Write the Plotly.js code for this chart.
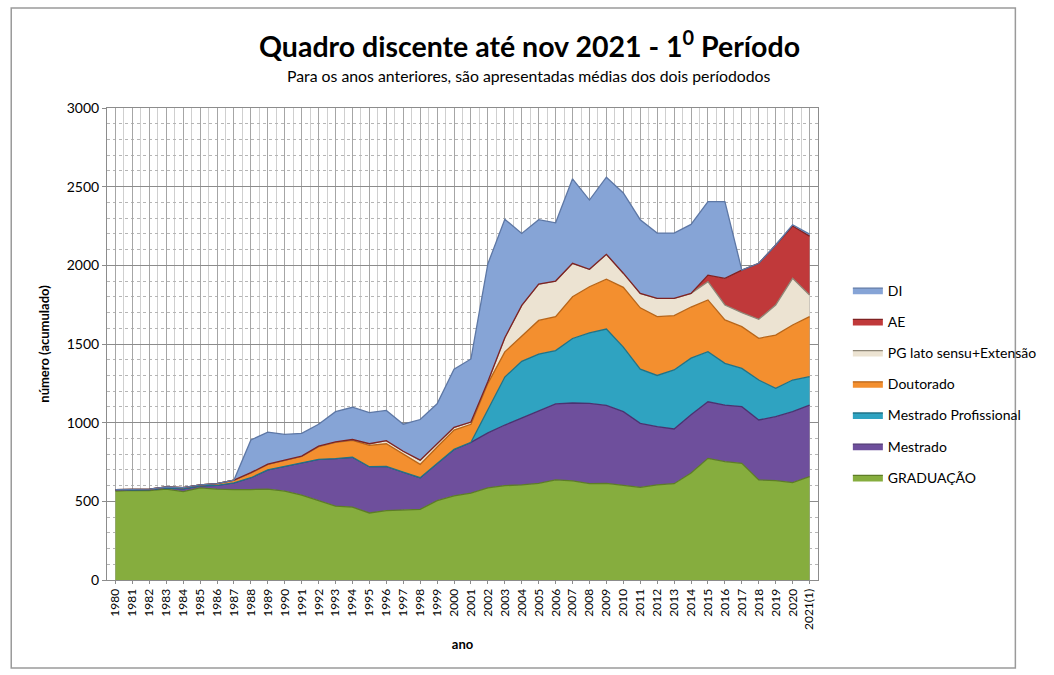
<!DOCTYPE html>
<html>
<head>
<meta charset="utf-8">
<script src="https://cdn.plot.ly/plotly-3.0.1.min.js"></script>
<style>
  html, body { margin: 0; padding: 0; background: #fff; }
  #chart { width: 1054px; height: 675px; }
</style>
</head>
<body>
<div id="chart"></div>
<script>
// stacked area chart - quadro discente 1980 .. 2021(1)

var years = ['1980','1981','1982','1983','1984','1985','1986','1987','1988','1989',
  '1990','1991','1992','1993','1994','1995','1996','1997','1998','1999',
  '2000','2001','2002','2003','2004','2005','2006','2007','2008','2009',
  '2010','2011','2012','2013','2014','2015','2016','2017','2018','2019',
  '2020','2021(1)'];

var graduacao = [565,570,568,578,562,585,578,574,575,578,
  565,540,505,470,463,426,441,447,449,505,
  535,552,585,600,604,614,636,630,612,614,
  600,589,604,612,680,773,752,742,636,631,
  619,657];
var mestrado = [7,5,6,8,18,13,24,44,75,122,
  157,205,262,302,317,294,281,238,201,236,
  295,323,350,385,426,466,484,495,511,496,
  470,407,371,348,370,360,360,360,381,407,
  451,455];
var mestradoProf = [0,0,0,0,0,0,0,0,0,0,
  0,0,0,0,0,0,0,0,0,0,
  0,0,145,305,360,356,338,410,447,485,
  410,344,325,375,360,318,265,243,254,180,
  201,180];
var doutorado = [3,3,4,5,7,6,10,16,30,35,
  38,40,81,103,108,136,144,115,85,104,
  123,115,170,160,160,214,216,265,294,317,
  380,390,374,345,325,329,276,265,265,339,
  350,382];
var pgLato = [0,0,0,0,0,0,0,1,2,2,
  2,2,3,3,5,10,20,18,27,21,
  17,14,12,90,195,230,226,213,111,158,
  90,92,116,110,87,116,95,89,121,191,
  296,137];
var ae = [0,0,0,0,0,0,0,0,0,0,
  0,0,0,0,0,0,0,0,0,0,
  0,0,0,0,0,0,0,0,0,0,
  0,0,0,0,0,42,169,271,356,381,
  333,375];
var di = [0,0,0,0,0,0,0,0,208,203,
  163,145,139,192,205,198,192,172,258,254,
  370,401,748,753,458,410,370,537,440,490,
  510,468,415,415,438,467,488,0,0,0,
  8,12];

var xs = years.map(function(y, i){ return i; });

function areaTrace(name, values, fill, edge, rank){
  return {
    x: xs,
    y: values,
    name: name,
    type: 'scatter',
    mode: 'lines',
    stackgroup: 'one',
    legendgroup: name,
    legendrank: rank,
    fillcolor: fill,
    line: { color: edge, width: 1.3, shape: 'linear' },
    hoverinfo: 'x+y+name'
  };
}

// legend shows top layer first (DI) like the original
var data = [
  areaTrace('GRADUAÇÃO', graduacao, '#86ad3e', '#5d7d26', 7),
  areaTrace('Mestrado', mestrado, '#6e4f9c', '#4a3270', 6),
  areaTrace('Mestrado Profissional', mestradoProf, '#2fa3c1', '#1f7388', 5),
  areaTrace('Doutorado', doutorado, '#f38f2f', '#b86518', 4),
  areaTrace('PG lato sensu+Extensão', pgLato, '#ece3d2', '#8f8777', 3),
  areaTrace('AE', ae, '#c0393a', '#7f2222', 2),
  areaTrace('DI', di, '#86a4d6', '#5d77a5', 1)
];

var font = 'Lato, "Open Sans", sans-serif';

var layout = {
  width: 1054,
  height: 675,
  margin: { l: 107, r: 212, t: 108, b: 95 },
  paper_bgcolor: '#ffffff',
  plot_bgcolor: '#ffffff',
  font: { family: font, color: '#000' },
  showlegend: true,
  legend: {
    x: 1.042, y: 0.415, yanchor: 'middle', xanchor: 'left',
    traceorder: 'grouped',
    tracegroupgap: 10,
    font: { size: 14, family: font },
    itemwidth: 30,
    bgcolor: 'rgba(0,0,0,0)'
  },
  xaxis: {
    type: 'linear',
    range: [-0.5, 41.5],
    tickmode: 'array',
    tickvals: xs,
    ticktext: years,
    tickangle: -90,
    tickfont: { size: 12, family: font },
    showgrid: true,
    gridcolor: '#a6a6a6',
    gridwidth: 1,
    minor: { tickmode: 'linear', tick0: -0.5, dtick: 1, showgrid: true, gridcolor: '#cfcfcf', gridwidth: 1 },
    showline: true, linecolor: '#8c8c8c', mirror: true,
    ticks: 'outside', ticklen: 3, tickcolor: '#8c8c8c',
    zeroline: false,
    title: { text: '<b>ano</b>', font: { size: 13, family: font }, standoff: 10 }
  },
  yaxis: {
    range: [0, 3000],
    dtick: 500,
    tickfont: { size: 14, family: font },
    showgrid: true,
    gridcolor: '#8c8c8c',
    gridwidth: 1,
    minor: { dtick: 100, showgrid: true, gridcolor: '#b5b5b5', griddash: 'dot', gridwidth: 1 },
    showline: true, linecolor: '#8c8c8c', mirror: true,
    ticks: 'outside', ticklen: 4, tickcolor: '#8c8c8c',
    zeroline: false,
    title: { text: '<b>número (acumulado)</b>', font: { size: 13, family: font }, standoff: 14 }
  },
  annotations: [
    {
      xref: 'paper', yref: 'paper', x: 0.594, y: 1.135, xanchor: 'center', yanchor: 'middle',
      text: '<b>Quadro discente até nov 2021 - 1<sup>0</sup> Período</b>',
      showarrow: false, font: { size: 28.5, family: font, color: '#000' }
    },
    {
      xref: 'paper', yref: 'paper', x: 0.594, y: 1.068, xanchor: 'center', yanchor: 'middle',
      text: 'Para os anos anteriores, são apresentadas médias dos dois períododos',
      showarrow: false, font: { size: 15.8, family: font, color: '#000' }
    }
  ],
  shapes: [
    {
      type: 'rect', xref: 'paper', yref: 'paper', layer: 'below',
      x0: -0.1347, x1: 1.2776, y0: -0.1864, y1: 1.2119,
      line: { color: '#9a9a9a', width: 1.5 }, fillcolor: 'rgba(0,0,0,0)'
    }
  ]
};

Plotly.newPlot('chart', data, layout, { displayModeBar: false, staticPlot: true });
</script>
</body>
</html>
